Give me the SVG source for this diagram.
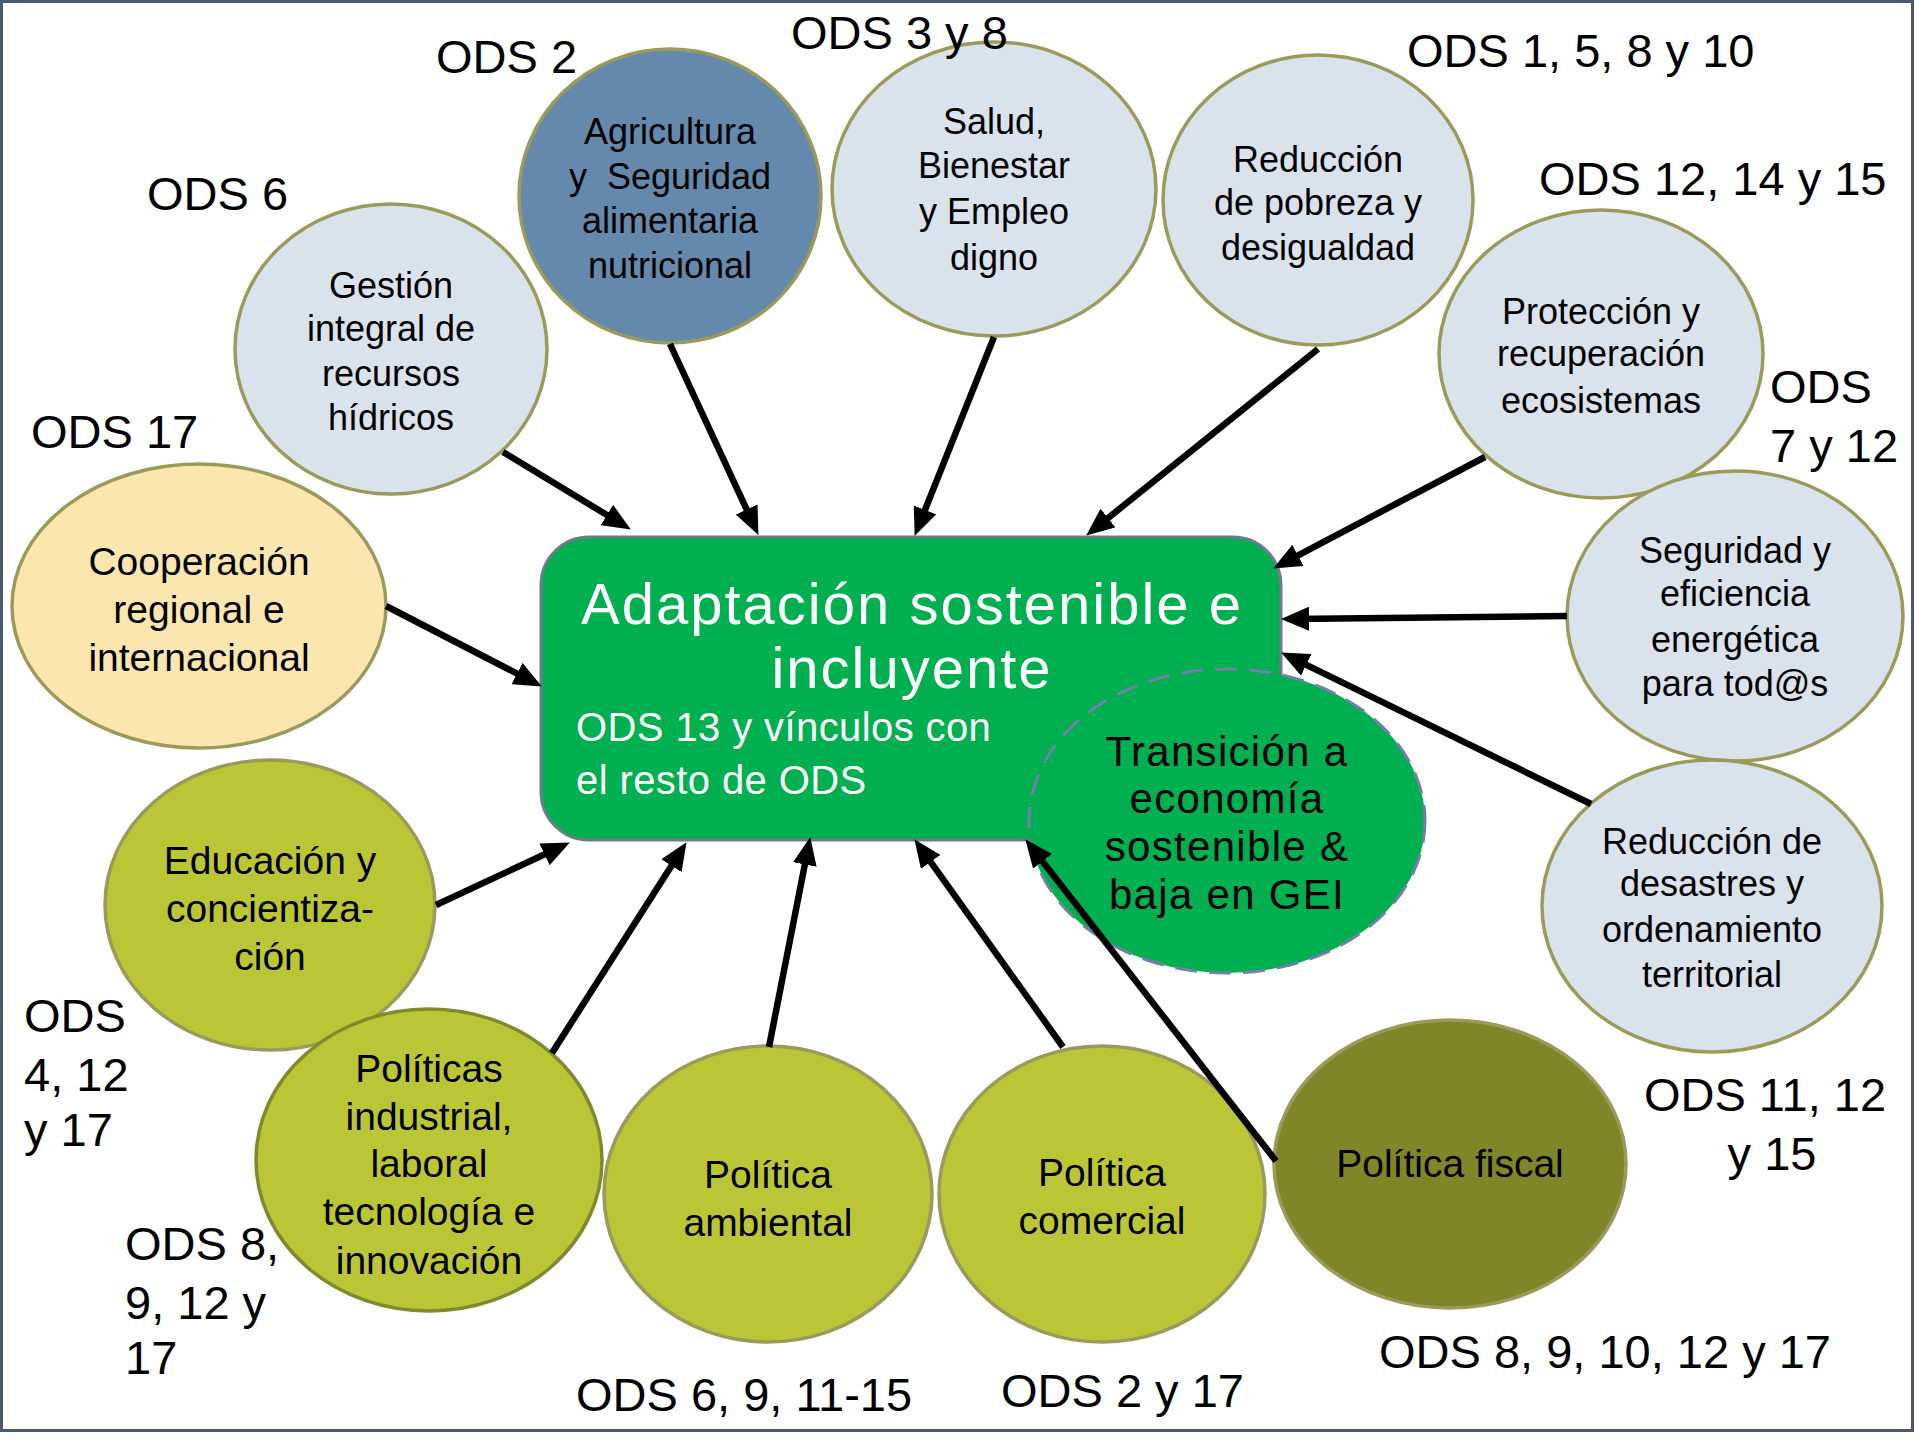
<svg xmlns="http://www.w3.org/2000/svg" width="1915" height="1440" viewBox="0 0 1915 1440">
<style>
.lb{fill:#dae3ec;stroke:#9a9a5a;stroke-width:3.5}
.yg{fill:#bbc637;stroke:#9a9a5a;stroke-width:3.5}
.t{font-family:"Liberation Sans",Arial,sans-serif;fill:#000;text-anchor:middle}
.n36{font-size:36px}
.n39{font-size:39px}
.ods{font-family:"Liberation Sans",Arial,sans-serif;font-size:47px;fill:#000}
.w{font-family:"Liberation Sans",Arial,sans-serif;fill:#fff}
.c{stroke:#000;stroke-width:6.5;fill:none;marker-end:url(#ah)}
</style>
<defs>
<marker id="ah" markerUnits="userSpaceOnUse" viewBox="0 0 28 24" refX="17" refY="12" markerWidth="28" markerHeight="24" orient="auto">
<path d="M0,0 L28,12 L0,24 z" fill="#000"/>
</marker>
</defs>
<rect x="1.5" y="1.5" width="1911" height="1429" fill="#fff" stroke="#4b5872" stroke-width="3"/>

<g id="central">
<rect x="541" y="537" width="740" height="303" rx="48" ry="48" fill="#00b050" stroke="#6d7b8d" stroke-width="3"/>
<text class="w" x="912" y="624" font-size="58" letter-spacing="2" text-anchor="middle">Adaptación sostenible e</text>
<text class="w" x="912" y="688" font-size="58" letter-spacing="2" text-anchor="middle">incluyente</text>
<text class="w" x="576" y="741" font-size="40" letter-spacing="0.4">ODS 13 y vínculos con</text>
<text class="w" x="576" y="794" font-size="40" letter-spacing="0.4">el resto de ODS</text>
</g>

<g id="n-cooperacion">
<ellipse cx="199" cy="606" rx="187" ry="142" fill="#fbe6b0" stroke="#9a9a5a" stroke-width="3.5"/>
<text class="t n39" x="199" y="575">Cooperación</text>
<text class="t n39" x="199" y="623">regional e</text>
<text class="t n39" x="199" y="671">internacional</text>
</g>

<g id="n-gestion">
<ellipse class="lb" cx="391" cy="349" rx="156" ry="145"/>
<text class="t n36" x="391" y="298">Gestión</text>
<text class="t n36" x="391" y="341">integral de</text>
<text class="t n36" x="391" y="386">recursos</text>
<text class="t n36" x="391" y="430">hídricos</text>
</g>

<g id="n-agricultura">
<ellipse cx="670" cy="196" rx="151" ry="147" fill="#6489ac" stroke="#9a9a5a" stroke-width="3.5"/>
<text class="t n36" x="670" y="144">Agricultura</text>
<text class="t n36" x="670" y="189">y&#160; Seguridad</text>
<text class="t n36" x="670" y="233">alimentaria</text>
<text class="t n36" x="670" y="278">nutricional</text>
</g>

<g id="n-salud">
<ellipse class="lb" cx="994" cy="189" rx="162" ry="147"/>
<text class="t n36" x="994" y="134">Salud,</text>
<text class="t n36" x="994" y="178">Bienestar</text>
<text class="t n36" x="994" y="224">y Empleo</text>
<text class="t n36" x="994" y="270">digno</text>
</g>

<g id="n-pobreza">
<ellipse class="lb" cx="1318" cy="200" rx="155" ry="145"/>
<text class="t n36" x="1318" y="172">Reducción</text>
<text class="t n36" x="1318" y="215">de pobreza y</text>
<text class="t n36" x="1318" y="260">desigualdad</text>
</g>

<g id="n-proteccion">
<ellipse class="lb" cx="1601" cy="354" rx="162" ry="144"/>
<text class="t n36" x="1601" y="324">Protección y</text>
<text class="t n36" x="1601" y="366">recuperación</text>
<text class="t n36" x="1601" y="413">ecosistemas</text>
</g>

<g id="n-energia">
<ellipse class="lb" cx="1735" cy="616" rx="168" ry="145"/>
<text class="t n36" x="1735" y="563">Seguridad y</text>
<text class="t n36" x="1735" y="606">eficiencia</text>
<text class="t n36" x="1735" y="652">energética</text>
<text class="t n36" x="1735" y="696">para tod@s</text>
</g>

<g id="n-desastres">
<ellipse class="lb" cx="1712" cy="906" rx="170" ry="146"/>
<text class="t n36" x="1712" y="854">Reducción de</text>
<text class="t n36" x="1712" y="896">desastres y</text>
<text class="t n36" x="1712" y="942">ordenamiento</text>
<text class="t n36" x="1712" y="987">territorial</text>
</g>

<g id="n-educacion">
<ellipse class="yg" cx="270" cy="905" rx="165" ry="145"/>
<text class="t n39" x="270" y="874">Educación y</text>
<text class="t n39" x="270" y="922">concientiza-</text>
<text class="t n39" x="270" y="970">ción</text>
</g>

<g id="n-politicas">
<ellipse cx="429" cy="1160" rx="173" ry="151" fill="#bbc637" stroke="#7e8a2c" stroke-width="3.5"/>
<text class="t n39" x="429" y="1082">Políticas</text>
<text class="t n39" x="429" y="1130">industrial,</text>
<text class="t n39" x="429" y="1177">laboral</text>
<text class="t n39" x="429" y="1225">tecnología e</text>
<text class="t n39" x="429" y="1274">innovación</text>
</g>

<g id="n-ambiental">
<ellipse class="yg" cx="768" cy="1194" rx="164" ry="148"/>
<text class="t n39" x="768" y="1188">Política</text>
<text class="t n39" x="768" y="1236">ambiental</text>
</g>

<g id="n-comercial">
<ellipse class="yg" cx="1102" cy="1194" rx="163" ry="148"/>
<text class="t n39" x="1102" y="1186">Política</text>
<text class="t n39" x="1102" y="1234">comercial</text>
</g>

<g id="n-fiscal">
<ellipse cx="1450" cy="1164" rx="176" ry="144" fill="#7f8628" stroke="#9a9a5a" stroke-width="3.5"/>
<text class="t n39" x="1450" y="1177">Política fiscal</text>
</g>

<g id="n-transicion">
<ellipse cx="1227" cy="821" rx="198" ry="152" fill="#00b050" stroke="#7080a8" stroke-width="3" stroke-dasharray="22,12"/>
<text class="t" font-size="42" letter-spacing="1.3" x="1227" y="766">Transición a</text>
<text class="t" font-size="42" letter-spacing="1.3" x="1227" y="813">economía</text>
<text class="t" font-size="42" letter-spacing="1.3" x="1227" y="861">sostenible &amp;</text>
<text class="t" font-size="42" letter-spacing="1.3" x="1227" y="909">baja en GEI</text>
</g>

<g id="labels">
<text class="ods" x="436" y="73">ODS 2</text>
<text class="ods" x="791" y="49">ODS 3 y 8</text>
<text class="ods" x="1407" y="67">ODS 1, 5, 8 y 10</text>
<text class="ods" x="1539" y="195">ODS 12, 14 y 15</text>
<text class="ods" x="1770" y="403">ODS</text>
<text class="ods" x="1770" y="462">7 y 12</text>
<text class="ods" x="147" y="210">ODS 6</text>
<text class="ods" x="31" y="448">ODS 17</text>
<text class="ods" x="24" y="1032">ODS</text>
<text class="ods" x="24" y="1091">4, 12</text>
<text class="ods" x="24" y="1146">y 17</text>
<text class="ods" x="125" y="1260">ODS 8,</text>
<text class="ods" x="125" y="1319">9, 12 y</text>
<text class="ods" x="125" y="1374">17</text>
<text class="ods" x="576" y="1411">ODS 6, 9, 11-15</text>
<text class="ods" x="1001" y="1407">ODS 2 y 17</text>
<text class="ods" x="1379" y="1368">ODS 8, 9, 10, 12 y 17</text>
<text class="ods" x="1765" y="1111" text-anchor="middle">ODS 11, 12</text>
<text class="ods" x="1772" y="1170" text-anchor="middle">y 15</text>
</g>

<g id="connectors">
<line class="c" x1="503" y1="452" x2="621.4" y2="523.8"/>
<line class="c" x1="670" y1="344" x2="753.8" y2="524.9"/>
<line class="c" x1="994" y1="337" x2="918.7" y2="525.7"/>
<line class="c" x1="1318" y1="349" x2="1094.8" y2="528.7"/>
<line class="c" x1="1485" y1="457" x2="1282.9" y2="563.3"/>
<line class="c" x1="1567" y1="616" x2="1292" y2="618.9"/>
<line class="c" x1="1591" y1="804" x2="1291" y2="657.4"/>
<line class="c" x1="1276" y1="1161" x2="1032.1" y2="847.9"/>
<line class="c" x1="1063" y1="1047" x2="920.8" y2="848.1"/>
<line class="c" x1="769" y1="1047" x2="808.1" y2="847.8"/>
<line class="c" x1="552" y1="1053" x2="680.6" y2="851.4"/>
<line class="c" x1="436" y1="905" x2="559.9" y2="847.2"/>
<line class="c" x1="386" y1="606" x2="532.1" y2="681.4"/>
</g>
</svg>
